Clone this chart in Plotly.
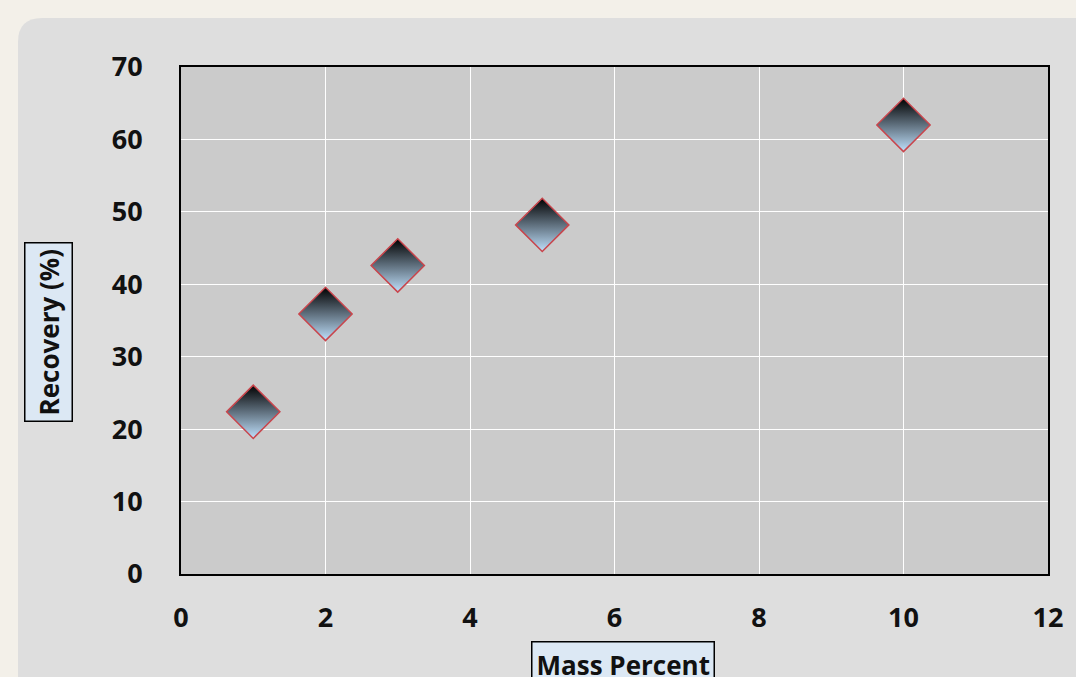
import plotly.graph_objects as go

# Recovery versus mass percent
mass_percent = [1, 2, 3, 5, 10]
recovery = [22.4, 35.9, 42.6, 48.2, 62.0]

x_ticks = [0, 2, 4, 6, 8, 10, 12]
y_ticks = [0, 10, 20, 30, 40, 50, 60, 70]

W, H = 1076, 677
ML, MR, MT, MB = 181, 28, 67, 103
PW, PH = W - ML - MR, H - MT - MB


def px_to_paper(px, py):
    return (px - ML) / PW, (H - MB - py) / PH


def rounded_rect(x0, y0, x1, y1, r):
    # rounded rectangle as an SVG path in paper coordinates (pixel input)
    X0, Y0 = px_to_paper(x0, y0)
    X1, Y1 = px_to_paper(x1, y1)
    rx, ry = r / PW, r / PH
    return (f"M {X0 + rx},{Y0} L {X1 - rx},{Y0} Q {X1},{Y0} {X1},{Y0 - ry} "
            f"L {X1},{Y1 + ry} Q {X1},{Y1} {X1 - rx},{Y1} "
            f"L {X0 + rx},{Y1} Q {X0},{Y1} {X0},{Y1 + ry} "
            f"L {X0},{Y0 - ry} Q {X0},{Y0} {X0 + rx},{Y0} Z")


fig = go.Figure()
fig.add_trace(go.Scatter(
    x=mass_percent, y=recovery, mode="markers",
    marker=dict(symbol="diamond", size=41, color="#000000",
                gradient=dict(type="vertical", color="#bfe0fc"),
                line=dict(color="#c9454c", width=1.5)),
    showlegend=False, hoverinfo="x+y",
))

tick_font = dict(family="Open Sans", size=27, color="#111111", weight="bold")
title_font = dict(family="Open Sans", size=26, color="#111111", weight="bold")

fig.update_xaxes(range=[0, 12], tickvals=x_ticks, ticktext=[str(v) for v in x_ticks],
                 showgrid=True, gridcolor="#ffffff", gridwidth=1,
                 showline=True, linecolor="#000000", linewidth=2, mirror=True,
                 zeroline=False, ticks="", tickfont=tick_font, ticklabelstandoff=19)
fig.update_yaxes(range=[0, 70], tickvals=y_ticks, ticktext=[str(v) for v in y_ticks],
                 showgrid=True, gridcolor="#ffffff", gridwidth=1,
                 showline=True, linecolor="#000000", linewidth=2, mirror=True,
                 zeroline=False, ticks="", tickfont=tick_font, ticklabelstandoff=31)

fig.update_layout(
    width=W, height=H,
    margin=dict(l=ML, r=MR, t=MT, b=MB),
    paper_bgcolor="#f3f0e9",
    plot_bgcolor="#cbcbcb",
    shapes=[
        dict(type="path", xref="paper", yref="paper", layer="below",
             path=rounded_rect(18, 18, 1120, 720, 24),
             fillcolor="#dedede", line=dict(width=0)),
        dict(type="rect", xref="paper", yref="paper", layer="below",
             x0=0, x1=1, y0=0, y1=1, fillcolor="#cbcbcb", line=dict(width=0)),
    ],
    annotations=[
        dict(text="Recovery (%)", xref="paper", yref="paper",
             x=px_to_paper(48, 0)[0], y=px_to_paper(0, 332)[1],
             xanchor="center", yanchor="middle", textangle=-90, showarrow=False,
             font=title_font, bgcolor="#dce8f4", bordercolor="#000000",
             borderwidth=1.5, borderpad=5),
        dict(text="Mass Percent", xref="paper", yref="paper",
             x=px_to_paper(623, 0)[0], y=px_to_paper(0, 641)[1],
             xanchor="center", yanchor="top", showarrow=False,
             font=title_font, bgcolor="#dce8f4", bordercolor="#000000",
             borderwidth=1.5, borderpad=4),
    ],
)

fig.write_html("out.html")
